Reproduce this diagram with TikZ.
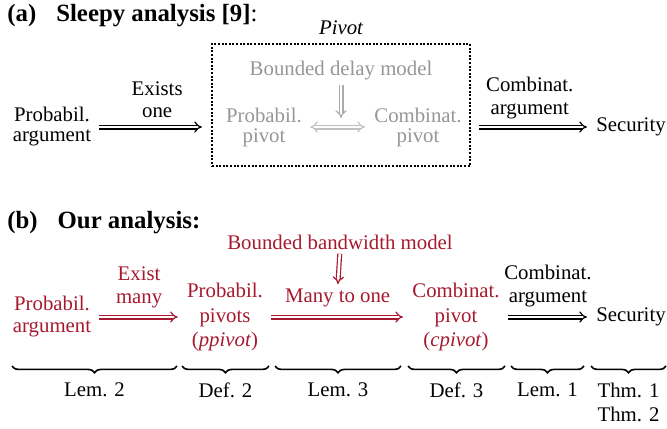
\documentclass[tikz,border=0pt]{standalone}
\usepackage{fontspec}
\setmainfont{Liberation Serif}
\usetikzlibrary{positioning}
\usetikzlibrary{arrows.meta}
\usetikzlibrary{decorations.pathreplacing}
\definecolor{pivotred}{RGB}{166,25,46}
\definecolor{pivotgray}{RGB}{150,150,150}
\tikzset{
  txt/.style={align=center, inner sep=0pt, font=\fontsize{10.4}{#1}\selectfont},
  txt/.default=11pt,
  heading/.style={anchor=base west, inner sep=0pt, font=\fontsize{12.4}{14}\selectfont\bfseries},
  implies/.style={double, double distance=1.3pt, line width=0.6pt, -{Implies}, shorten <=4pt, shorten >=4.5pt},
  brc/.style={decorate, decoration={brace, mirror, amplitude=3.4pt}, line width=0.8pt},
  pivotbox/.style={draw, line width=1.1pt, dash pattern=on 1pt off 0.8pt, minimum width=129pt, minimum height=61pt, inner sep=0pt}
}
\begin{document}
\begin{tikzpicture}[x=0.5pt, y=-0.5pt]
		\useasboundingbox (0,0) rectangle (667,428);
		% (a) sleepy
		\node[heading] (ha) at (7,21) {(a)\hspace{10pt}Sleepy analysis [9]\textmd{:}};
		\node[txt=10pt] (pa) at (52,127) {Probabil.\\argument};
		\node[pivotbox] (box) at (341,105) {};
		\node[txt, above=4pt of box] (pvt) {\itshape Pivot};
		\node[txt, pivotgray] (bd) at (341,71) {Bounded delay model};
		\node[txt=10pt, pivotgray] (ppv) at (264,127) {Probabil.\\pivot};
		\node[txt=10pt, pivotgray] (cpv) at (418,127) {Combinat.\\pivot};
		\node[txt] (sec) at (631,127) {Security};
		\coordinate (bdend) at (341,118);
		\draw[implies] (pa.east) -- node[txt, pos=0.55, above=4.5pt] (ex) {Exists\\one} (pa.east -| box.west);
		\draw[implies] (box.east |- sec.west) -- node[txt=11.5pt, pos=0.47, above=3.8pt] (ca) {Combinat.\\argument} (sec.west);
		\draw[implies, pivotgray!60, {Implies}-{Implies}] (ppv.east) -- (cpv.west);
		\draw[implies, pivotgray!80, shorten <=2pt, shorten >=0pt] (bd.south) -- (bdend);
		%
		% (b) ours
		\node[heading] (hb) at (7,228) {(b)\hspace{10pt}Our analysis:};
		\node[txt, pivotred] (bw) at (340,242) {Bounded bandwidth model};
		\node[txt, pivotred] (pa2) at (52,317) {Probabil.\\argument};
		\node[txt=12.4pt, pivotred] (ppv2) at (225,317) {Probabil.\\pivots\\(\textit{ppivot})};
		\node[txt=12.4pt, pivotred] (cpv2) at (456,317) {Combinat.\\pivot\\(\textit{cpivot})};
		\node[txt] (sec2) at (631,317) {Security};
		\draw[implies, pivotred] (pa2.east) -- node[txt=11.5pt, above=4.3pt] (exm) {Exist\\many} (pa2.east -| ppv2.west);
		\draw[implies, pivotred] (ppv2.east) -- node[txt, above=4.8pt] (mto) {Many to one} (ppv2.east -| cpv2.west);
		\draw[implies] (cpv2.east) -- node[txt=11.5pt, above=4.8pt] (ca2) {Combinat.\\argument} (cpv2.east -| sec2.west);
		\draw[implies, pivotred, shorten <=2pt, shorten >=2pt] (bw.south) -- (mto.north);
		%
		\draw[brc] (12,366) -- node[txt, below=8pt] (l2) {Lem. 2} (177,366);
		\draw[brc] (182,366) -- node[txt, below=8pt] (d2) {Def. 2} (269,366);
		\draw[brc] (275,366) -- node[txt, below=8pt] (l3) {Lem. 3} (401,366);
		\draw[brc] (408,366) -- node[txt, below=8pt] (d3) {Def. 3} (505,366);
		\draw[brc] (511,366) -- node[txt, below=8pt] (l1) {Lem. 1} (584,366);
		\draw[brc] (591,366) -- node[txt=12pt, below=8pt] (th) {Thm. 1\\Thm. 2} (666,366);
	\end{tikzpicture}
\end{document}
